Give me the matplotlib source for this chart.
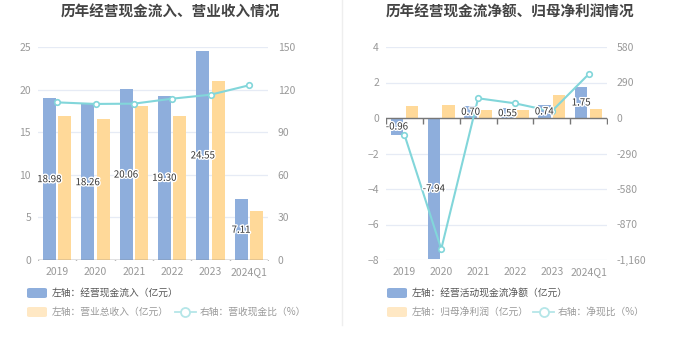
import matplotlib
matplotlib.use("Agg")
import matplotlib.pyplot as plt
import matplotlib.patheffects as pe
from matplotlib.patches import FancyBboxPatch
from matplotlib.lines import Line2D
import numpy as np

plt.rcParams['font.family'] = ['Noto Sans CJK SC', 'DejaVu Sans']

years = ["2019", "2020", "2021", "2022", "2023", "2024Q1"]

# left chart
cash_in = [18.98, 18.26, 20.06, 19.30, 24.55, 7.11]        # 经营现金流入 (亿元)
revenue = [16.9, 16.5, 18.1, 16.9, 21.0, 5.7]              # 营业总收入 (亿元)
cash_rev_ratio = [111.0, 109.9, 110.1, 113.6, 116.4, 123.0]  # 营收现金比 (%)

# right chart
net_cash = [-0.96, -7.94, 0.70, 0.55, 0.74, 1.75]          # 经营活动现金流净额 (亿元)
net_profit = [0.68, 0.75, 0.45, 0.45, 1.30, 0.50]          # 归母净利润 (亿元)
net_cash_ratio = [-136, -1070, 161, 120, 55, 357]          # 净现比 (%)

BLUE = "#8eaedc"
YELLOW = "#ffd999"
YELLOW_L = "#ffe8c4"
TEAL = "#82d6da"
GRID = "#e6ebf5"
TICK = "#999999"


def base_axes(ax, ylim, yticks, ylim2, yticks2, ylabels2):
    ax.set_xlim(-0.5, len(years) - 0.5)
    ax.set_ylim(*ylim)
    ax.set_yticks(yticks)
    ax.set_xticks(range(len(years)))
    ax.set_xticklabels(years)
    for s in ["top", "right", "left", "bottom"]:
        ax.spines[s].set_visible(False)
    ax.tick_params(axis="y", length=0, labelsize=7.5, labelcolor=TICK, pad=5)
    ax.tick_params(axis="x", length=0, labelsize=7.5, labelcolor=TICK, pad=5)
    ax.grid(axis="y", color=GRID, lw=0.9)
    ax.set_axisbelow(True)
    ax2 = ax.twinx()
    ax2.set_ylim(*ylim2)
    ax2.set_yticks(yticks2)
    ax2.set_yticklabels(ylabels2)
    for s in ["top", "right", "left", "bottom"]:
        ax2.spines[s].set_visible(False)
    ax2.tick_params(axis="y", length=0, labelsize=7.5, labelcolor=TICK, pad=7)
    return ax2


def zero_line(ax, y):
    ax.axhline(y, color="#777777", lw=1.0, zorder=3)
    bounds = np.arange(-0.5, len(years) + 0.5, 1)
    ax.plot(bounds, [y] * len(bounds), ls="none", marker=3, ms=4,
            mec="#777777", mew=1.0, zorder=3)


def add_labels(ax_top, ax_data, xs, vals):
    # labels sit on the twin axes (above the line) but use bar data coords
    for x, v in zip(xs, vals):
        ax_top.text(x, v / 2, f"{v:.2f}", ha="center", va="center", fontsize=7,
                    color="#333333", zorder=6, transform=ax_data.transData,
                    path_effects=[pe.withStroke(linewidth=2, foreground="white")])


def legend(fig, x0, y_row1, y_row2, t1, t2, t3, x_line):
    W, H = 680, 349
    def fx(px): return px / W
    def fy(py): return 1 - py / H
    for y, col in [(y_row1, BLUE), (y_row2, YELLOW_L)]:
        fig.patches.append(FancyBboxPatch((fx(x0), fy(y + 5)), fx(20), 10 / H,
                                          boxstyle="round,pad=0,rounding_size=0.004",
                                          transform=fig.transFigure, fc=col, ec="none"))
    fig.text(fx(x0 + 25), fy(y_row1), t1, fontsize=7, color="#555555", va="center")
    fig.text(fx(x0 + 25), fy(y_row2), t2, fontsize=7, color="#999999", va="center")
    fig.add_artist(Line2D([fx(x_line), fx(x_line + 21)], [fy(y_row2)] * 2,
                          transform=fig.transFigure, color="#b5e6e8", lw=1.3))
    fig.add_artist(Line2D([fx(x_line + 10.5)], [fy(y_row2)], transform=fig.transFigure,
                          marker="o", ms=6.5, mfc="white", mec="#b5e6e8", mew=1.3))
    fig.text(fx(x_line + 25), fy(y_row2), t3, fontsize=7, color="#999999", va="center")


def main() -> None:
    fig = plt.figure(figsize=(6.8, 3.49), dpi=100)
    x = np.arange(len(years))
    w = 0.34
    off = 0.2

    # ---- left chart
    ax = fig.add_axes([38 / 680, 1 - 260 / 349, 230 / 680, 213 / 349])
    ax2 = base_axes(ax, (0, 25), range(0, 26, 5), (0, 150), range(0, 151, 30),
                    [str(v) for v in range(0, 151, 30)])
    ax.bar(x - off, cash_in, w, color=BLUE, zorder=2)
    ax.bar(x + off, revenue, w, color=YELLOW, zorder=2)
    zero_line(ax, 0)
    ax2.plot(x, cash_rev_ratio, color=TEAL, lw=1.5, marker="o", ms=4,
             mfc="white", mec=TEAL, mew=1.2, zorder=5)
    add_labels(ax2, ax, x - off, cash_in)

    # ---- right chart
    bx = fig.add_axes([386 / 680, 1 - 260 / 349, 221 / 680, 213 / 349])
    bx2 = base_axes(bx, (-8, 4), range(-8, 5, 2), (-1160, 580), range(-1160, 581, 290),
                    ["-1,160", "-870", "-580", "-290", "0", "290", "580"])
    bx.bar(x - off, net_cash, w, color=BLUE, zorder=2)
    bx.bar(x + off, net_profit, w, color=YELLOW, zorder=2)
    zero_line(bx, 0)
    bx2.plot(x, net_cash_ratio, color=TEAL, lw=1.5, marker="o", ms=4,
             mfc="white", mec=TEAL, mew=1.2, zorder=5)
    add_labels(bx2, bx, x - off, net_cash)

    # titles
    fig.text(170 / 680, 1 - 12 / 349, "历年经营现金流入、营业收入情况", ha="center",
             va="center", fontsize=10.5, fontweight="bold", color="#444444")
    fig.text(510 / 680, 1 - 12 / 349, "历年经营现金流净额、归母净利润情况", ha="center",
             va="center", fontsize=10.5, fontweight="bold", color="#444444")

    # divider
    fig.add_artist(Line2D([342 / 680] * 2, [1, 1 - 325 / 349],
                          transform=fig.transFigure, color="#eeeeee", lw=1))

    legend(fig, 27, 293, 312, "左轴：经营现金流入（亿元）", "左轴：营业总收入（亿元）",
           "右轴：营收现金比（%）", 175)
    legend(fig, 387, 293, 312, "左轴：经营活动现金流净额（亿元）", "左轴：归母净利润（亿元）",
           "右轴：净现比（%）", 533)

    fig.savefig("out.png", dpi=100)


if __name__ == '__main__':
    main()
